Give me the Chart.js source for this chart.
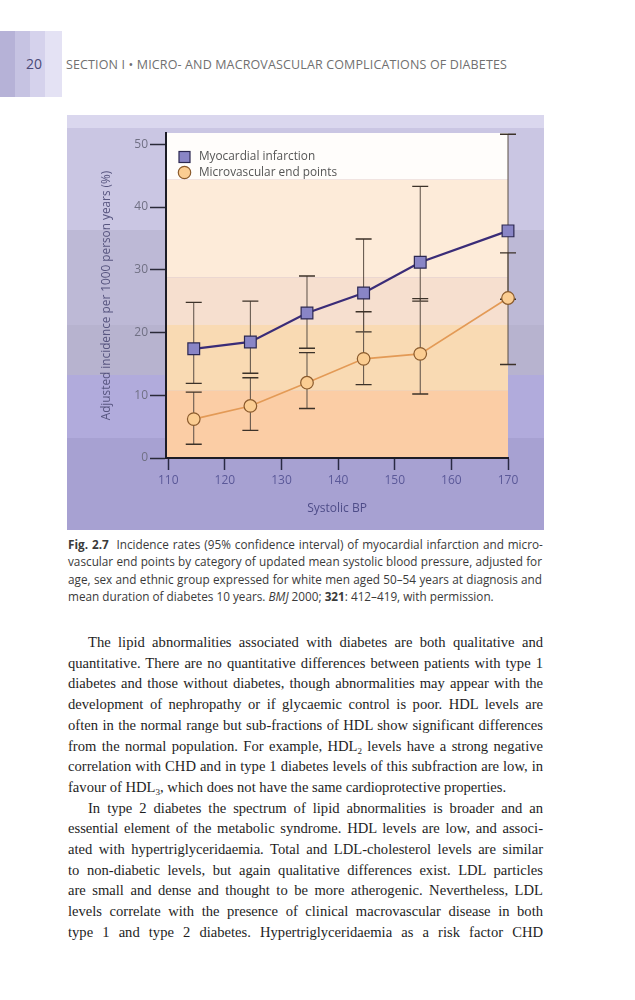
<!DOCTYPE html>
<html><head><meta charset="utf-8">
<script src="https://cdn.jsdelivr.net/npm/chart.js@4.4.1/dist/chart.umd.min.js"></script>
<style>
html,body{margin:0;padding:0;background:#fff;}
#page{position:relative;width:635px;height:1000px;overflow:hidden;font-family:'Open Sans',sans-serif;}
#tab{position:absolute;left:0;top:31px;width:62px;height:66px;
 background:linear-gradient(to right,#b6b2d7 0,#b6b2d7 15px,#c6c3e2 15px,#c6c3e2 30px,#d5d2ec 30px,#d5d2ec 45px,#e4e2f4 45px,#e4e2f4 62px);}
#pnum{position:absolute;left:26px;top:54px;font-size:14px;line-height:20px;color:#4a4a78;}
#head{position:absolute;left:66px;top:55px;font-size:12.5px;line-height:20px;color:#707070;white-space:nowrap;}
#fig{position:absolute;left:67px;top:115px;width:477px;height:415px;}
#cap{position:absolute;left:68px;top:536px;width:474px;font-size:11.75px;line-height:17.3px;color:#3a3a3a;}
#body{position:absolute;left:68px;top:632px;width:475px;font-family:'Liberation Serif',serif;font-size:14.6px;line-height:20.7px;color:#1e1e1e;}
.ln{white-space:nowrap;}
.ln span{display:inline-block;white-space:nowrap;}
.ind{padding-left:20px;}
sub{font-size:9px;vertical-align:-3px;line-height:0;}
</style></head>
<body><div id="page">
<div id="tab"></div>
<div id="pnum">20</div>
<div id="head"><span id="headtxt">SECTION I • MICRO- AND MACROVASCULAR COMPLICATIONS OF DIABETES</span></div>
<div id="fig"><canvas id="c" width="477" height="415" style="width:477px;height:415px"></canvas></div>
<div id="cap">
<div class="ln j"><span><b>Fig. 2.7</b>&nbsp; Incidence rates (95% confidence interval) of myocardial infarction and micro-</span></div>
<div class="ln j"><span>vascular end points by category of updated mean systolic blood pressure, adjusted for</span></div>
<div class="ln j"><span>age, sex and ethnic group expressed for white men aged 50–54 years at diagnosis and</span></div>
<div class="ln"><span>mean duration of diabetes 10 years. <i>BMJ</i> 2000; <b>321</b>: 412–419, with permission.</span></div>
</div>
<div id="body">
<div class="ln j ind"><span>The lipid abnormalities associated with diabetes are both qualitative and</span></div>
<div class="ln j"><span>quantitative. There are no quantitative differences between patients with type 1</span></div>
<div class="ln j"><span>diabetes and those without diabetes, though abnormalities may appear with the</span></div>
<div class="ln j"><span>development of nephropathy or if glycaemic control is poor. HDL levels are</span></div>
<div class="ln j"><span>often in the normal range but sub-fractions of HDL show significant differences</span></div>
<div class="ln j"><span>from the normal population. For example, HDL<sub>2</sub> levels have a strong negative</span></div>
<div class="ln j"><span>correlation with CHD and in type 1 diabetes levels of this subfraction are low, in</span></div>
<div class="ln"><span>favour of HDL<sub>3</sub>, which does not have the same cardioprotective properties.</span></div>
<div class="ln j ind"><span>In type 2 diabetes the spectrum of lipid abnormalities is broader and an</span></div>
<div class="ln j"><span>essential element of the metabolic syndrome. HDL levels are low, and associ-</span></div>
<div class="ln j"><span>ated with hypertriglyceridaemia. Total and LDL-cholesterol levels are similar</span></div>
<div class="ln j"><span>to non-diabetic levels, but again qualitative differences exist. LDL particles</span></div>
<div class="ln j"><span>are small and dense and thought to be more atherogenic. Nevertheless, LDL</span></div>
<div class="ln j"><span>levels correlate with the presence of clinical macrovascular disease in both</span></div>
<div class="ln j"><span>type 1 and type 2 diabetes. Hypertriglyceridaemia as a risk factor CHD</span></div>
</div>
</div>
<script>
// ---- data ----
const xTicks = [110, 120, 130, 140, 150, 160, 170];
const yTicks = [0, 10, 20, 30, 40, 50];
const systolicBP = [114.5, 124.5, 134.5, 144.5, 154.5, 170];
const miRate  = [17.4, 18.5, 23.1, 26.3, 31.2, 36.2];
const miLower = [11.9, 13.5, 17.5, 20.1, 25.0, 25.3];
const miUpper = [24.8, 25.0, 29.0, 34.9, 43.3, 51.6];
const microRate  = [6.2, 8.3, 12.0, 15.8, 16.6, 25.5];
const microLower = [2.2, 4.4, 7.9, 11.7, 10.2, 14.9];
const microUpper = [10.5, 12.8, 16.8, 23.3, 25.4, 32.7];
const seriesLabels = ['Myocardial infarction', 'Microvascular end points'];

// ---- text fitting (justify each printed line) ----
function fitLines(){
  document.querySelectorAll('.ln.j').forEach(div=>{
    const span = div.firstElementChild;
    span.style.wordSpacing = '0px';
    const cs = getComputedStyle(div);
    const avail = div.clientWidth - parseFloat(cs.paddingLeft) - parseFloat(cs.paddingRight);
    const nat = span.getBoundingClientRect().width;
    const spaces = (span.textContent.match(/ /g) || []).length;
    if (spaces) span.style.wordSpacing = ((avail - nat) / spaces) + 'px';
  });
  const h = document.getElementById('headtxt');
  h.style.letterSpacing = '0px';
  const w = h.getBoundingClientRect().width;
  const n = h.textContent.length;
  h.style.letterSpacing = ((441 - w) / n) + 'px';
}
fitLines();

// ---- decorative backgrounds ----
const bgPlugin = {
  id: 'bg',
  beforeDraw(chart){
    const {ctx, chartArea: a, scales: {y}} = chart;
    const W = chart.width;
    const outer = [[0,13,'#dad7ee'],[13,115,'#cac6e3'],[115,210,'#bdb9d6'],[210,260,'#b7b3cf'],[260,323,'#b1abdc'],[323,415,'#a7a1d2']];
    ctx.save();
    outer.forEach(([t,b,c])=>{ctx.fillStyle=c;ctx.fillRect(0,t,W,b-t);});
    const inner = [[51.8,44.4,'#fffdfb'],[44.4,28.8,'#fdebd9'],[28.8,21.2,'#f6dfcf'],[21.2,10.7,'#f9dab3'],[10.7,0,'#fbcda5']];
    inner.forEach(([v1,v2,c])=>{
      const t = y.getPixelForValue(v1), b = y.getPixelForValue(v2);
      ctx.fillStyle=c; ctx.fillRect(a.left,t,a.right-a.left,b-t);
    });
    ctx.restore();
  }
};

// ---- error bars ----
const errPlugin = {
  id: 'err',
  beforeDatasetsDraw(chart){
    const {ctx, scales:{x,y}} = chart;
    ctx.save();
    chart.data.datasets.forEach(ds=>{
      ds.data.forEach((p,i)=>{
        const px = x.getPixelForValue(p.x);
        const lo = y.getPixelForValue(ds.errLow[i]);
        const hi = y.getPixelForValue(ds.errHigh[i]);
        ctx.strokeStyle = '#5a4e44';
        ctx.lineWidth = 1;
        ctx.beginPath(); ctx.moveTo(px,hi); ctx.lineTo(px,lo); ctx.stroke();
        ctx.lineWidth = 1.4;
        ctx.strokeStyle = '#3c3229';
        ctx.beginPath();
        ctx.moveTo(px-8,hi); ctx.lineTo(px+8,hi);
        ctx.moveTo(px-8,lo); ctx.lineTo(px+8,lo);
        ctx.stroke();
      });
    });
    ctx.restore();
  }
};

// ---- legend inside plot ----
const legendPlugin = {
  id: 'legendIn',
  afterDraw(chart){
    const {ctx, chartArea:a} = chart;
    const ds = chart.data.datasets;
    ctx.save();
    ctx.font = "11.8px 'Open Sans'";
    ctx.textBaseline = 'middle';
    let cy = a.top + 24;
    ctx.fillStyle = ds[0].pointBackgroundColor; ctx.strokeStyle = ds[0].pointBorderColor; ctx.lineWidth = 1.2;
    ctx.fillRect(a.left+13, cy-5.5, 11, 11); ctx.strokeRect(a.left+13, cy-5.5, 11, 11);
    ctx.fillStyle = '#555555';
    ctx.fillText(ds[0].label, a.left+33, cy);
    cy += 15.5;
    ctx.beginPath(); ctx.arc(a.left+18.5, cy, 6.2, 0, Math.PI*2);
    ctx.fillStyle = ds[1].pointBackgroundColor; ctx.fill();
    ctx.strokeStyle = ds[1].pointBorderColor; ctx.stroke();
    ctx.fillStyle = '#555555';
    ctx.fillText(ds[1].label, a.left+33, cy);
    ctx.restore();
  }
};

const ctx = document.getElementById('c').getContext('2d');
new Chart(ctx, {
  type: 'scatter',
  data: {
    datasets: [
      {
        label: seriesLabels[0],
        data: systolicBP.map((x,i)=>({x, y: miRate[i]})),
        errLow: miLower, errHigh: miUpper,
        showLine: true, borderColor: '#3a2c78', borderWidth: 2.2,
        pointStyle: 'rect', pointRadius: 8.3,
        pointBackgroundColor: '#8985c6', pointBorderColor: '#2c2852', pointBorderWidth: 1.2,
        clip: false
      },
      {
        label: seriesLabels[1],
        data: systolicBP.map((x,i)=>({x, y: microRate[i]})),
        errLow: microLower, errHigh: microUpper,
        showLine: true, borderColor: '#e39a56', borderWidth: 1.6,
        pointStyle: 'circle', pointRadius: 6.3,
        pointBackgroundColor: '#fbcd92', pointBorderColor: '#8a5a2c', pointBorderWidth: 1.2,
        clip: false
      }
    ]
  },
  options: {
    responsive: false, animation: false,
    layout: {padding: {top: 18, right: 36, left: 0, bottom: 0}},
    plugins: {legend: {display: false}, tooltip: {enabled: false}},
    scales: {
      x: {
        type: 'linear', min: 109.6, max: 170,
        afterBuildTicks: s => { s.ticks = xTicks.map(v => ({value: v})); },
        afterFit: s => { s.height = 72; },
        grid: {display: true, drawOnChartArea: false, drawTicks: true, tickLength: 12, tickColor: '#2a2a44', tickWidth: 1.5},
        border: {display: true, color: '#1c1c26', width: 2},
        ticks: {color: '#5a5898', font: {family: "'Open Sans'", size: 12}, padding: 3, maxRotation: 0},
        title: {display: true, text: 'Systolic BP', color: '#4e4c88', font: {family: "'Open Sans'", size: 12}, padding: {top: 0, bottom: 14}}
      },
      y: {
        min: 0, max: 51.8,
        afterBuildTicks: s => { s.ticks = yTicks.map(v => ({value: v})); },
        afterFit: s => { s.width = 99; },
        grid: {display: true, drawOnChartArea: false, drawTicks: true, tickLength: 16, tickColor: '#2a2a38', tickWidth: 1.5},
        border: {display: true, color: '#1c1c26', width: 2},
        ticks: {color: '#707084', font: {family: "'Open Sans'", size: 12}, padding: 2},
        title: {display: true, text: 'Adjusted incidence per 1000 person years (%)', color: '#585680', font: {family: "'Open Sans'", size: 11.8}, padding: {top: 33, bottom: 0}}
      }
    }
  },
  plugins: [bgPlugin, errPlugin, legendPlugin]
});
</script>
</body></html>
